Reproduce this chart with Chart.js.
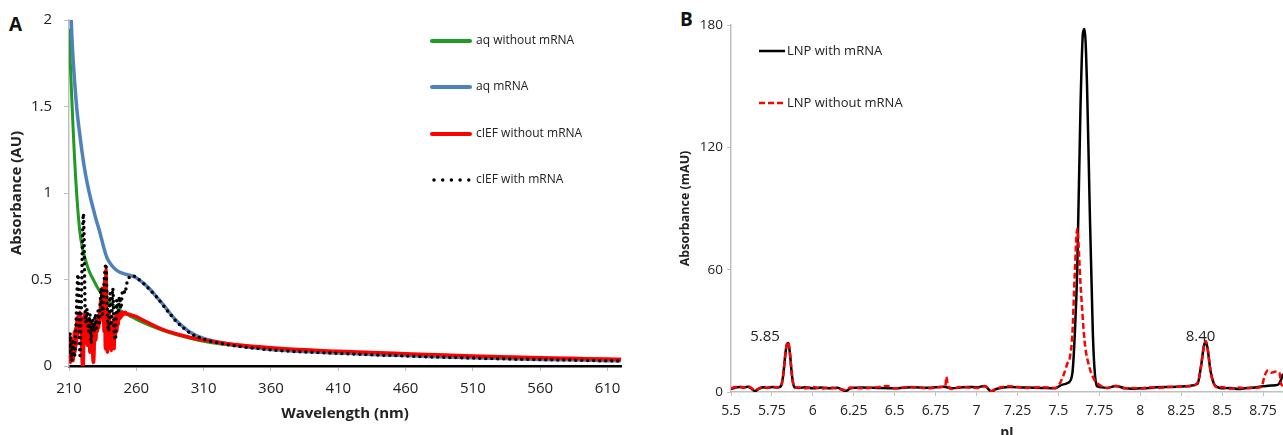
<!DOCTYPE html>
<html>
<head>
<meta charset="utf-8">
<script src="https://cdn.jsdelivr.net/npm/chart.js@4.4.1/dist/chart.umd.min.js"></script>
<style>
  body { margin: 0; background: #fff; width: 1283px; height: 435px; overflow: hidden; position: relative; font-family: 'Open Sans', sans-serif; }
  canvas { position: absolute; top: 0; }
  #chartA { left: 0; }
  #chartB { left: 660px; }
  .panel { position: absolute; font-weight: bold; font-size: 19px; line-height: 19px; color: #111; }
</style>
</head>
<body>
<div class="panel" style="left:9px;top:15px">A</div>
<div class="panel" style="left:680px;top:10px">B</div>
<canvas id="chartA" width="650" height="435"></canvas>
<canvas id="chartB" width="623" height="435"></canvas>
<script>
// ---- panel A : UV absorbance spectra ----
const xTicksA = [210, 260, 310, 360, 410, 460, 510, 560, 610];
const yTicksA = [0, 0.5, 1, 1.5, 2];
const legendNamesA = ['aq without mRNA', 'aq mRNA', 'cIEF without mRNA', 'cIEF with mRNA'];

const greenWl  = [210, 211, 212, 213, 214, 215, 216, 218, 220, 222, 224, 226, 228, 230, 233, 236, 240, 245, 250, 255, 260, 270, 280, 290, 300, 310, 320, 340, 360, 380, 410, 440, 460, 490, 510, 540, 560, 590, 610, 620];
const greenAbs = [1.95, 1.75, 1.56, 1.38, 1.22, 1.08, 0.96, 0.78, 0.68, 0.62, 0.57, 0.53, 0.5, 0.47, 0.43, 0.4, 0.37, 0.34, 0.31, 0.29, 0.27, 0.235, 0.205, 0.18, 0.16, 0.143, 0.13, 0.112, 0.1, 0.09, 0.08, 0.07, 0.065, 0.058, 0.053, 0.047, 0.044, 0.04, 0.037, 0.036];

const blueWl  = [210, 211, 212, 213, 214, 215, 216, 218, 220, 222, 224, 226, 228, 230, 233, 236, 238, 240, 243, 246, 250, 255, 260, 265, 270, 275, 280, 285, 290, 295, 300, 305, 310, 320, 330, 340, 360, 380, 410, 440, 460, 490, 510, 540, 560, 590, 610, 620];
const blueAbs = [2.5, 2.15, 1.93, 1.78, 1.66, 1.56, 1.47, 1.34, 1.22, 1.12, 1.04, 0.97, 0.91, 0.85, 0.77, 0.68, 0.63, 0.6, 0.57, 0.55, 0.535, 0.525, 0.51, 0.48, 0.445, 0.4, 0.355, 0.305, 0.26, 0.225, 0.195, 0.175, 0.16, 0.14, 0.125, 0.112, 0.095, 0.085, 0.075, 0.065, 0.06, 0.052, 0.048, 0.042, 0.038, 0.034, 0.031, 0.03];

const redWl  = [210, 210.5, 211, 211.5, 212, 212.5, 213, 213.5, 214, 214.5, 215, 215.5, 216, 216.5, 217, 217.5, 218, 218.5, 219, 219.5,
  220, 220.5, 221, 221.5, 222, 222.5, 223, 223.5, 224, 224.5, 225, 225.5, 226, 226.5, 227, 227.5, 228, 228.5, 229, 229.5,
  230, 230.5, 231, 231.5, 232, 232.5, 233, 233.5, 234, 234.5, 235, 235.5, 236, 236.5, 237, 237.5, 238, 238.5, 239, 239.5,
  240, 240.5, 241, 241.5, 242, 242.5, 243, 243.5, 244, 244.5, 245, 245.5, 246, 246.5, 247, 247.5, 248, 248.5, 249, 249.5,
  250, 251, 252, 253, 254, 256, 260, 265, 270, 280, 290, 300, 310, 320, 340, 360, 380, 410, 440, 460, 490, 510, 540, 560, 590, 610, 620];
const redAbs = [0.05, 0.18, 0.02, 0.12, 0.05, 0.15, 0.03, 0.1, 0.2, 0.08, 0.22, 0.12, 0.28, 0.18, 0.3, 0.2, 0.31, 0.22, 0.28, 0.1,
  0, 0, 0.15, 0.3, 0.27, 0.18, 0.28, 0.12, 0.26, 0.2, 0.27, 0.08, 0.25, 0.18, 0.22, 0.1, 0.02, 0.05, 0.2, 0.25,
  0.15, 0.27, 0.2, 0.26, 0.22, 0.3, 0.25, 0.38, 0.28, 0.45, 0.3, 0.42, 0.2, 0.5, 0.1, 0.56, 0.2, 0.08, 0.25, 0.12,
  0.3, 0.1, 0.22, 0.09, 0.25, 0.12, 0.2, 0.1, 0.28, 0.18, 0.3, 0.2, 0.28, 0.24, 0.3, 0.27, 0.31, 0.28, 0.3, 0.29,
  0.31, 0.3, 0.31, 0.3, 0.3, 0.295, 0.285, 0.265, 0.245, 0.21, 0.185, 0.165, 0.15, 0.137, 0.118, 0.105, 0.095, 0.085, 0.076, 0.071, 0.063, 0.058, 0.052, 0.048, 0.043, 0.04, 0.039];

const dotWl  = [210, 211, 212, 213, 214, 215, 216.7, 218.2, 219, 220.7, 222.3, 223.5, 224.5, 225.5, 226.5, 227.5, 228.5, 229.5,
  230.5, 231.5, 232.5, 233.8, 235, 236.2, 237.5, 238.5, 239.5, 240.5, 241.5, 242.5, 243.5, 244.5, 245.5, 246.5, 247.5, 248.5, 249.5,
  250.6, 251.5, 253, 254, 255.5, 258, 260, 265, 270, 275, 280, 285, 290, 295, 300, 305, 310, 320, 330, 340, 360, 380, 410, 440, 460, 490, 510, 540, 560, 590, 610, 620];
const dotAbs = [0.08, 0.19, 0.03, 0.14, 0.05, 0.2, 0.53, 0.06, 0.3, 0.88, 0.25, 0.33, 0.2, 0.3, 0.13, 0.27, 0.2, 0.3,
  0.22, 0.32, 0.25, 0.45, 0.3, 0.5, 0.59, 0.3, 0.2, 0.42, 0.25, 0.45, 0.2, 0.15, 0.38, 0.3, 0.4, 0.33, 0.42,
  0.44, 0.42, 0.48, 0.5, 0.52, 0.52, 0.51, 0.48, 0.44, 0.4, 0.35, 0.3, 0.255, 0.22, 0.19, 0.17, 0.155, 0.135, 0.12, 0.11, 0.093, 0.083, 0.073, 0.064, 0.058, 0.05, 0.046, 0.04, 0.037, 0.033, 0.03, 0.029];

// ---- panel B : cIEF electropherogram ----
const xTicksB = [5.5, 5.75, 6, 6.25, 6.5, 6.75, 7, 7.25, 7.5, 7.75, 8, 8.25, 8.5, 8.75];
const yTicksB = [0, 60, 120, 180];
const legendNamesB = ['LNP with mRNA', 'LNP without mRNA'];
const annotText = ['5.85', '8.40'];
const annotX = [5.708, 8.368];
const annotY = [27.2, 27.2];

const withPI  = [5.5, 5.52, 5.55, 5.58, 5.6, 5.62, 5.645, 5.67, 5.7, 5.72, 5.75, 5.78, 5.8, 5.81, 5.82, 5.83, 5.84, 5.85, 5.86, 5.87,
  5.88, 5.89, 5.92, 5.95, 6.0, 6.05, 6.1, 6.15, 6.2, 6.23, 6.3, 6.4, 6.5, 6.6, 6.7, 6.8, 6.85, 6.9, 6.95, 7.0,
  7.05, 7.09, 7.12, 7.2, 7.3, 7.4, 7.48, 7.52, 7.56, 7.585, 7.6, 7.615, 7.635, 7.65, 7.66, 7.675, 7.69, 7.71, 7.72, 7.735,
  7.75, 7.8, 7.85, 7.9, 7.95, 8.0, 8.05, 8.1, 8.2, 8.3, 8.35, 8.37, 8.39, 8.4, 8.41, 8.43, 8.45, 8.47, 8.5, 8.55,
  8.6, 8.65, 8.7, 8.75, 8.8, 8.84, 8.86, 8.872];
const withAbs = [1.5, 2, 2.5, 2.2, 2.6, 2, 0.5, 1.5, 2.3, 2, 2.4, 2.2, 2.5, 4, 9, 17, 23, 24, 19, 10,
  4, 2.2, 2, 2.3, 1.8, 2.2, 1.8, 2.1, 0.5, 1.8, 2.2, 2, 1.8, 2.3, 2.1, 2.6, 1.8, 2.2, 2.5, 2.3,
  3, 0.3, 1.5, 2.5, 2.2, 2, 1.8, 3.5, 4.5, 9, 28, 60, 140, 176, 178, 150, 95, 30, 12, 3,
  2.5, 2, 3, 2, 1.6, 1.8, 2, 2.3, 2.5, 3, 4, 12, 23, 24.5, 22, 10, 4, 2.5, 1.8, 2,
  1.5, 2, 2.2, 2.8, 3.2, 3.5, 6, 9];

const withoutPI  = [5.5, 5.52, 5.55, 5.58, 5.6, 5.62, 5.645, 5.67, 5.7, 5.72, 5.75, 5.78, 5.8, 5.81, 5.82, 5.83, 5.84, 5.85, 5.86, 5.87,
  5.88, 5.89, 5.92, 5.95, 6.0, 6.05, 6.1, 6.15, 6.2, 6.23, 6.3, 6.4, 6.45, 6.5, 6.6, 6.7, 6.78, 6.81, 6.815, 6.825,
  6.85, 6.9, 6.95, 7.0, 7.05, 7.09, 7.12, 7.2, 7.3, 7.4, 7.48, 7.5, 7.53, 7.555, 7.57, 7.585, 7.6, 7.615, 7.635, 7.66,
  7.69, 7.72, 7.75, 7.8, 7.85, 7.9, 7.95, 8.0, 8.05, 8.1, 8.2, 8.3, 8.35, 8.37, 8.39, 8.4, 8.41, 8.43, 8.45, 8.47,
  8.5, 8.55, 8.6, 8.65, 8.7, 8.74, 8.76, 8.78, 8.8, 8.83, 8.85, 8.86, 8.872];
const withoutAbs = [1.8, 2.3, 2.7, 2.2, 2.8, 2.2, 0.8, 1.8, 2.5, 2.1, 2.6, 2.3, 2.6, 4, 9, 17, 23, 24.5, 19, 10,
  4, 2.4, 2.2, 1.8, 2.4, 1.7, 2.3, 1.6, 1, 2.2, 1.8, 2.4, 3, 1.8, 2.5, 1.8, 2.4, 3, 7.5, 3.5,
  1.5, 2.4, 2.2, 2, 2.8, 0.5, 1.6, 2.8, 2, 2.3, 2, 3, 8, 14, 17, 28, 58, 80, 53, 25,
  12, 6, 3.5, 2, 3, 1.8, 2, 1.6, 2.3, 2, 2.6, 2.8, 4.5, 12, 23, 25, 22, 10, 4, 2.2,
  2.4, 1.6, 2.2, 1.8, 2, 2.5, 8, 10.5, 9.5, 10, 9.5, 4, 3];

const pairs = (xs, ys) => xs.map((x, i) => ({ x: x, y: ys[i] }));

Chart.defaults.font.family = "'Open Sans', sans-serif";
Chart.defaults.color = '#222';

const axisGray = '#bfbfbf';

// legend drawn by hand, Excel-style list inside the plot
const legendA = {
  id: 'legendA',
  afterDatasetsDraw(chart) {
    const ctx = chart.ctx;
    const a = chart.chartArea;
    const x0 = a.left + 363;
    const rows = [41, 87, 134, 180];
    chart.data.datasets.forEach((ds, i) => {
      const y = rows[i];
      ctx.save();
      ctx.strokeStyle = ds.borderColor;
      ctx.lineCap = 'round';
      if (ds.borderDash) {
        ctx.lineWidth = 3.5;
        ctx.setLineDash([0, 8.7]);
        ctx.beginPath(); ctx.moveTo(x0 + 2, y); ctx.lineTo(x0 + 38, y); ctx.stroke();
      } else {
        ctx.lineWidth = 4;
        ctx.beginPath(); ctx.moveTo(x0, y); ctx.lineTo(x0 + 38, y); ctx.stroke();
      }
      ctx.setLineDash([]);
      ctx.fillStyle = '#222';
      ctx.font = "12px 'Open Sans', sans-serif";
      ctx.textBaseline = 'middle';
      ctx.textAlign = 'left';
      ctx.fillText(legendNamesA[i], x0 + 44, y);
      ctx.restore();
    });
  }
};

const legendB = {
  id: 'legendB',
  afterDatasetsDraw(chart) {
    const ctx = chart.ctx;
    const a = chart.chartArea;
    const x0 = a.left + 28;
    const rows = [51, 103];
    chart.data.datasets.forEach((ds, i) => {
      const y = rows[i];
      ctx.save();
      ctx.strokeStyle = ds.borderColor;
      ctx.lineWidth = 2.5;
      if (ds.borderDash) ctx.setLineDash([6, 3]);
      ctx.beginPath(); ctx.moveTo(x0, y); ctx.lineTo(x0 + 26, y); ctx.stroke();
      ctx.setLineDash([]);
      ctx.fillStyle = '#222';
      ctx.font = "13px 'Open Sans', sans-serif";
      ctx.textBaseline = 'middle';
      ctx.fillText(legendNamesB[i], x0 + 28, y);
      ctx.restore();
    });
    // peak labels
    const xs = chart.scales.x, ys = chart.scales.y;
    ctx.save();
    ctx.fillStyle = '#222';
    ctx.font = "15px 'Open Sans', sans-serif";
    ctx.textAlign = 'center';
    ctx.textBaseline = 'middle';
    annotText.forEach((t, i) => {
      ctx.fillText(t, xs.getPixelForValue(annotX[i]), ys.getPixelForValue(annotY[i]));
    });
    ctx.restore();
  }
};

new Chart(document.getElementById('chartA'), {
  type: 'line',
  data: {
    datasets: [
      { label: legendNamesA[0], data: pairs(greenWl, greenAbs), borderColor: '#1f9a22', borderWidth: 3, order: 3 },
      { label: legendNamesA[1], data: pairs(blueWl, blueAbs), borderColor: '#4f81bd', borderWidth: 3.5, order: 2 },
      { label: legendNamesA[2], data: pairs(redWl, redAbs), borderColor: '#ff0000', borderWidth: 3.5, order: 1 },
      { label: legendNamesA[3], data: pairs(dotWl, dotAbs), borderColor: '#000000', borderWidth: 3.5,
        borderDash: [0, 6], borderCapStyle: 'round', order: 0 }
    ]
  },
  options: {
    responsive: false,
    animation: false,
    devicePixelRatio: 1,
    elements: { point: { radius: 0 }, line: { cubicInterpolationMode: 'monotone' } },
    layout: { padding: { left: 0, top: 20, right: 29, bottom: 12 } },
    plugins: { legend: { display: false }, tooltip: { enabled: false } },
    scales: {
      x: {
        type: 'linear', min: 210, max: 620,
        afterBuildTicks: s => { s.ticks = xTicksA.map(v => ({ value: v })); },
        afterFit: s => { s.height = 57; s.paddingLeft = 0; s.paddingRight = 0; },
        ticks: { font: { size: 15 }, padding: 9, maxRotation: 0, callback: v => String(v) },
        grid: { drawOnChartArea: false, tickLength: 5, color: axisGray },
        border: { color: '#000', width: 2.5 },
        title: { display: true, text: 'Wavelength (nm)', font: { size: 15, weight: 'bold' }, padding: { top: 0, bottom: 0 } }
      },
      y: {
        min: 0, max: 2,
        afterBuildTicks: s => { s.ticks = yTicksA.map(v => ({ value: v })); },
        afterFit: s => { s.width = 69; s.paddingTop = 0; s.paddingBottom = 0; },
        ticks: { font: { size: 15 }, padding: 12, callback: v => String(v) },
        grid: { drawOnChartArea: false, tickLength: 5, color: axisGray },
        border: { color: axisGray, width: 1.5 },
        title: { display: true, text: 'Absorbance (AU)', font: { size: 15, weight: 'bold' }, padding: { top: 8, bottom: 0 } }
      }
    }
  },
  plugins: [legendA]
});

new Chart(document.getElementById('chartB'), {
  type: 'line',
  data: {
    datasets: [
      { label: legendNamesB[0], data: pairs(withPI, withAbs), borderColor: '#000000', borderWidth: 2.5, order: 1 },
      { label: legendNamesB[1], data: pairs(withoutPI, withoutAbs), borderColor: '#ff0000', borderWidth: 2.5,
        borderDash: [6, 3], order: 0 }
    ]
  },
  options: {
    responsive: false,
    animation: false,
    devicePixelRatio: 1,
    elements: { point: { radius: 0 }, line: { cubicInterpolationMode: 'monotone' } },
    layout: { padding: { left: 0, top: 25, right: 0, bottom: 0 } },
    plugins: { legend: { display: false }, tooltip: { enabled: false } },
    scales: {
      x: {
        type: 'linear', min: 5.5, max: 8.872,
        afterBuildTicks: s => { s.ticks = xTicksB.map(v => ({ value: v })); },
        afterFit: s => { s.height = 43; s.paddingLeft = 0; s.paddingRight = 0; },
        ticks: { font: { size: 14 }, padding: 7, maxRotation: 0, callback: v => String(v) },
        grid: { drawOnChartArea: false, tickLength: 4, color: axisGray },
        border: { color: axisGray, width: 1.5 },
        title: { display: true, text: 'pI', font: { size: 14, weight: 'bold' }, padding: { top: 0, bottom: -6 } }
      },
      y: {
        min: 0, max: 180,
        afterBuildTicks: s => { s.ticks = yTicksB.map(v => ({ value: v })); },
        afterFit: s => { s.width = 71; s.paddingTop = 0; s.paddingBottom = 0; },
        ticks: { font: { size: 13.5 }, padding: 4, callback: v => String(v) },
        grid: { drawOnChartArea: false, tickLength: 4, color: axisGray },
        border: { color: axisGray, width: 1.5 },
        title: { display: true, text: 'Absorbance (mAU)', font: { size: 12.5, weight: 'bold' }, padding: { top: 17.5, bottom: 0 } }
      }
    }
  },
  plugins: [legendB]
});
</script>
</body>
</html>
